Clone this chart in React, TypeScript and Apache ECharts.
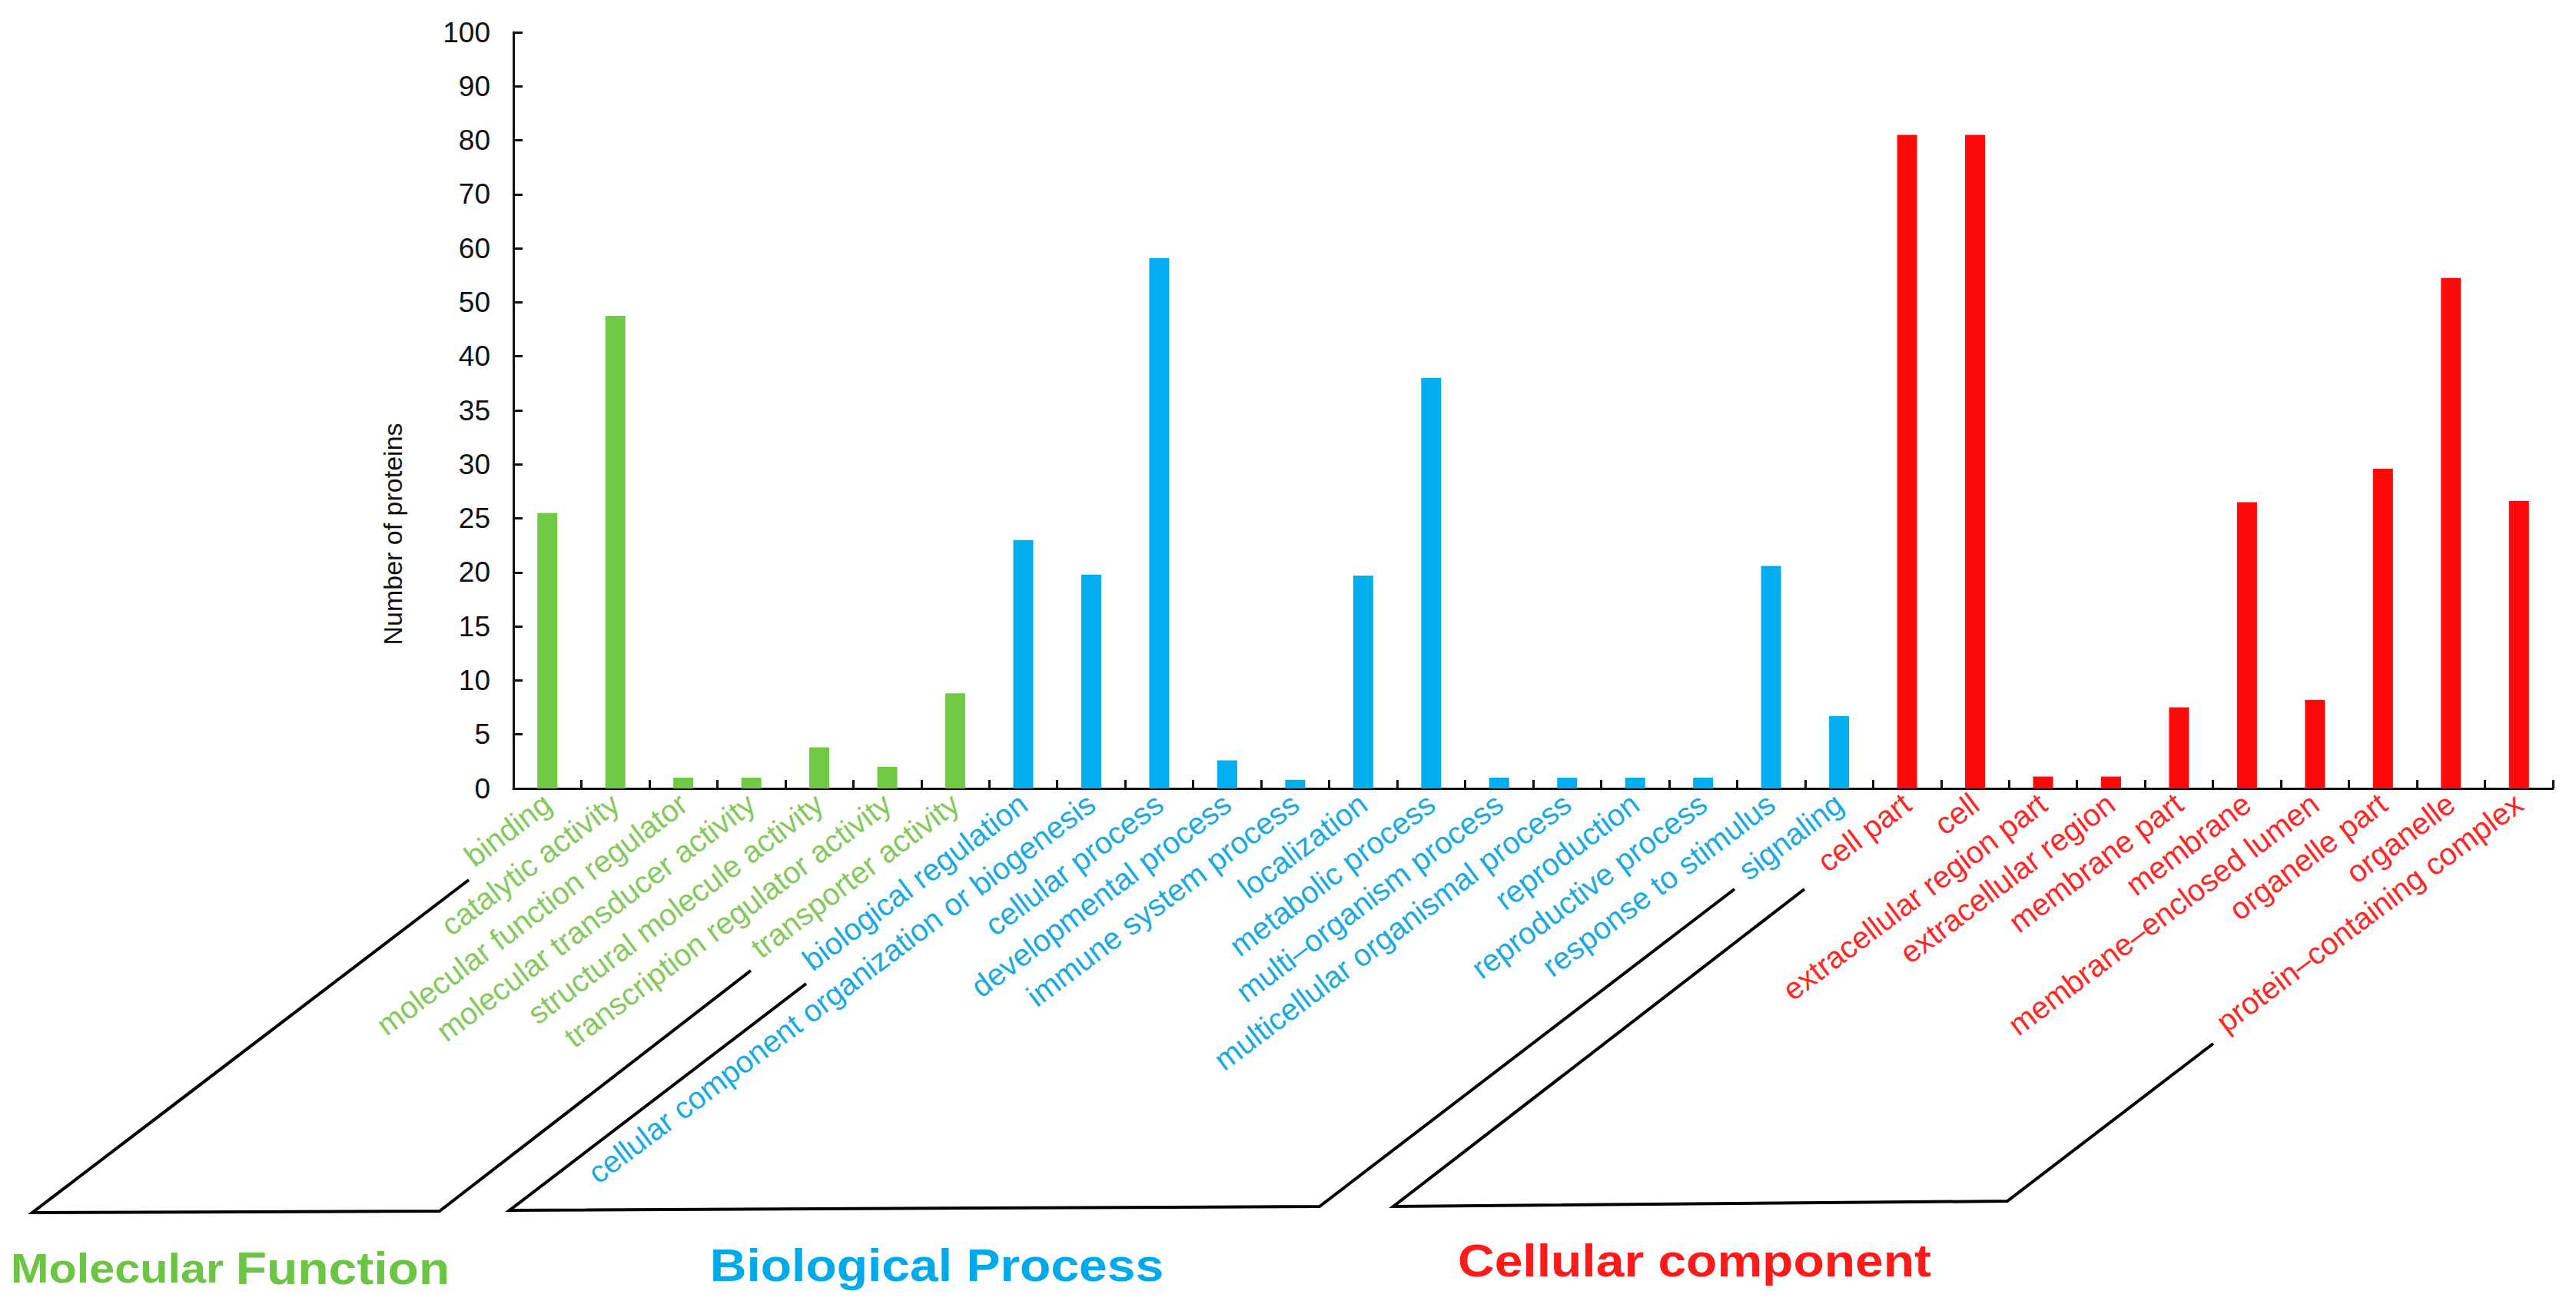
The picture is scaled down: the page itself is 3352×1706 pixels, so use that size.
import React, { useEffect, useRef } from "react";
import * as echarts from "echarts";

const categories = [
  "binding",
  "catalytic activity",
  "molecular function regulator",
  "molecular transducer activity",
  "structural molecule activity",
  "transcription regulator activity",
  "transporter activity",
  "biological regulation",
  "cellular component organization or biogenesis",
  "cellular process",
  "developmental process",
  "immune system process",
  "localization",
  "metabolic process",
  "multi–organism process",
  "multicellular organismal process",
  "reproduction",
  "reproductive process",
  "response to stimulus",
  "signaling",
  "cell part",
  "cell",
  "extracellular region part",
  "extracellular region",
  "membrane part",
  "membrane",
  "membrane–enclosed lumen",
  "organelle part",
  "organelle",
  "protein–containing complex",
];

const groupOf = [
  0, 0, 0, 0, 0, 0, 0,
  1, 1, 1, 1, 1, 1, 1, 1, 1, 1, 1, 1, 1,
  2, 2, 2, 2, 2, 2, 2, 2, 2, 2,
];

const values = [
  25.5, 47.5, 1, 1, 3.8, 2, 8.8,
  23, 19.8, 58.2, 2.6, 0.8, 19.7, 38, 1, 1, 1, 1, 20.6, 6.7,
  81, 81, 1.1, 1.1, 7.5, 26.5, 8.2, 29.6, 54.5, 26.6,
];

const yTickLabels = [0, 5, 10, 15, 20, 25, 30, 35, 40, 50, 60, 70, 80, 90, 100];

const groupNames = ["Molecular Function", "Biological Process", "Cellular component"];
const barColors = ["#6fc944", "#00aeef", "#ff0a0a"];
const labelColors = ["#84c95c", "#19a9e3", "#ff2626"];
const titleColors = ["#6cc444", "#00a9ea", "#ff1a1a"];

const FONT = "'Liberation Sans', Arial, Helvetica, sans-serif";

// piecewise axis scale: each tick label occupies one equal step
function toAxisPos(v: number): number {
  for (let i = 0; i < yTickLabels.length - 1; i++) {
    const a = yTickLabels[i];
    const b = yTickLabels[i + 1];
    if (v <= b) return i + (v - a) / (b - a);
  }
  return yTickLabels.length - 1;
}

export default function App() {
  const ref = useRef<HTMLDivElement>(null);

  useEffect(() => {
    document.body.style.margin = "0";
    if (!ref.current) return;
    const chart = echarts.init(ref.current, null, { renderer: "svg" });

    const bracketStyle = { stroke: "#000", lineWidth: 4, fill: "none" };
    const mfWords = groupNames[0].split(" ");

    const option: any = {
      animation: false,
      backgroundColor: "#ffffff",
      grid: { left: 668, top: 42, right: 30, bottom: 680, containLabel: false },
      xAxis: {
        type: "category",
        data: categories,
        boundaryGap: true,
        axisLine: { show: true, lineStyle: { color: "#111", width: 3 } },
        axisTick: {
          show: true,
          inside: true,
          length: 11,
          alignWithLabel: false,
          interval: 0,
          lineStyle: { color: "#111", width: 3 },
        },
        axisLabel: {
          interval: 0,
          rotate: 37,
          margin: 15,
          fontSize: 40,
          fontFamily: FONT,
          color: (val: string) => labelColors[groupOf[categories.indexOf(val)]] || "#000",
        },
        splitLine: { show: false },
      },
      yAxis: {
        type: "value",
        min: 0,
        max: yTickLabels.length - 1,
        interval: 1,
        axisLine: { show: true, lineStyle: { color: "#111", width: 3 } },
        axisTick: { show: true, inside: true, length: 12, lineStyle: { color: "#111", width: 3 } },
        splitLine: { show: false },
        axisLabel: {
          margin: 30,
          fontSize: 37,
          fontFamily: FONT,
          color: "#111",
          formatter: (v: number) => String(yTickLabels[Math.round(v)]),
        },
      },
      series: [
        {
          type: "bar",
          barWidth: 26,
          data: values.map((v, i) => ({
            value: toAxisPos(v),
            itemStyle: { color: barColors[groupOf[i]] },
          })),
        },
      ],
      graphic: [
        {
          type: "text",
          x: 511,
          y: 695,
          rotation: Math.PI / 2,
          style: {
            text: "Number of proteins",
            fontSize: 34,
            fontFamily: FONT,
            fill: "#111",
            align: "center",
            verticalAlign: "middle",
          },
        },
        {
          type: "polyline",
          shape: { points: [[610, 1145], [42, 1578], [572, 1576], [977, 1263]] },
          style: bracketStyle,
        },
        {
          type: "polyline",
          shape: { points: [[1049, 1280], [663, 1575], [1717, 1570], [2257, 1157]] },
          style: bracketStyle,
        },
        {
          type: "polyline",
          shape: { points: [[2348, 1157], [1813, 1570], [2612, 1563], [2880, 1358]] },
          style: bracketStyle,
        },
        {
          type: "text",
          x: 14,
          y: 1650,
          scaleX: 1.1,
          style: {
            text: "{a|" + mfWords[0] + "}{s| }{b|" + mfWords[1] + "}",
            fontFamily: FONT,
            fontWeight: "bold",
            fill: titleColors[0],
            verticalAlign: "middle",
            align: "left",
            rich: {
              a: { fontSize: 54, fontWeight: "bold", fontFamily: FONT, fill: titleColors[0] },
              s: { fontSize: 54, width: 14 },
              b: { fontSize: 60, fontWeight: "bold", fontFamily: FONT, fill: titleColors[0] },
            },
          },
        },
        {
          type: "text",
          x: 1219,
          y: 1646,
          scaleX: 1.1,
          style: {
            text: groupNames[1],
            fontSize: 60,
            fontWeight: "bold",
            fontFamily: FONT,
            fill: titleColors[1],
            align: "center",
            verticalAlign: "middle",
          },
        },
        {
          type: "text",
          x: 2205,
          y: 1640,
          scaleX: 1.1,
          style: {
            text: groupNames[2],
            fontSize: 60,
            fontWeight: "bold",
            fontFamily: FONT,
            fill: titleColors[2],
            align: "center",
            verticalAlign: "middle",
          },
        },
      ],
    };

    chart.setOption(option);
    return () => chart.dispose();
  }, []);

  return <div ref={ref} style={{ width: 3352, height: 1706 }} />;
}
